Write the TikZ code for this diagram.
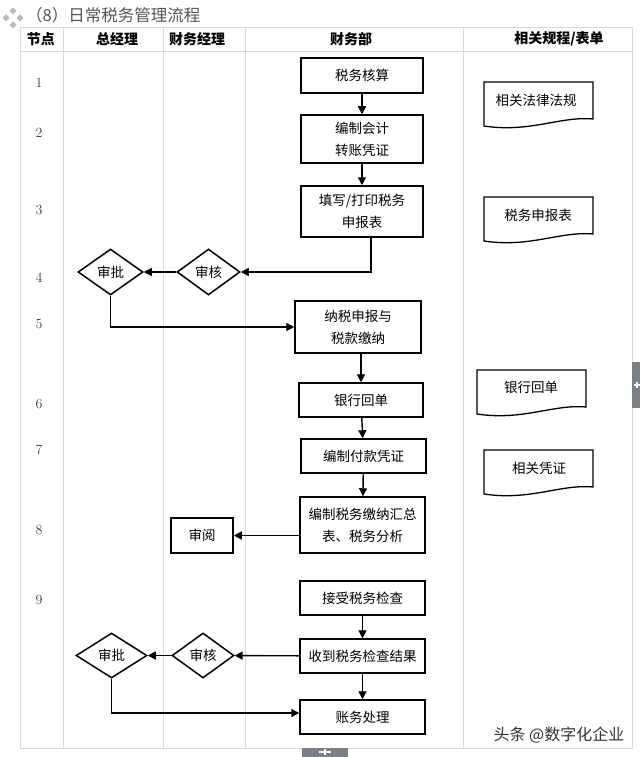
\documentclass[tikz,border=0pt]{standalone}
\usepackage{fontspec}
\newfontfamily\cjk{Noto Sans CJK SC}
\usetikzlibrary{shapes.geometric,arrows.meta}
\definecolor{tblgray}{HTML}{D6D8DC}
\definecolor{tabgray}{HTML}{7B8087}
\definecolor{titlegray}{HTML}{555555}
\newcommand\mydoc[6]{%
  \draw[docshape] (#2,#3) -- (#2+109,#3) -- (#2+109,#3+37)
    .. controls (#2+76,#3+34) and (#2+46,#3+51) .. (#2,#3+44) -- cycle;
  \node[txt] (#1) at (#4,#5) {#6};}
\begin{document}
\begin{tikzpicture}[x=1pt,y=-1pt,
  txt/.style={font=\cjk\fontsize{13.5}{22}\selectfont, inner sep=0pt, align=center},
  box/.style={txt, draw, line width=1.5pt},
  dia/.style={txt, draw, line width=1.5pt, shape=diamond},
  docshape/.style={draw, line width=1.3pt},
  tbl/.style={draw=tblgray, line width=0.8pt},
  hdr/.style={font=\cjk\bfseries\fontsize{14}{14}\selectfont, inner sep=0pt},
  num/.style={font=\fontsize{14}{14}\selectfont, text=black!75, inner sep=0pt},
  arr/.style={line width=1.4pt, -{Triangle[length=8pt,width=8pt]}}]
\useasboundingbox (0,0) rectangle (640,757);
\fill[white] (0,0) rectangle (640,757);
% title
\foreach \p in {(13,11),(6,18),(20,18),(13,25)}
  \fill[gray!55] \p +(0,-3.5) -- +(3.5,0) -- +(0,3.5) -- +(-3.5,0) -- cycle;
\node[anchor=west, font=\cjk\fontsize{16.5}{16.5}\selectfont, text=titlegray, inner sep=0pt] (title) at (26,15) {（8）日常税务管理流程};
% table
\draw[tbl] (20,27) rectangle (632,748);
\draw[tbl] (20,51) -- (632,51);
\foreach \x in {63,163,245,463} \draw[tbl] (\x,27) -- (\x,748);
% header
\node[hdr] (h1) at (41,39) {节点};
\node[hdr] (h2) at (117,39) {总经理};
\node[hdr] (h3) at (197,39) {财务经理};
\node[hdr] (h4) at (351,39) {财务部};
\node[hdr] (h5) at (559,39) {相关规程/表单};
% row numbers
\node[num] (n1) at (39,83) {1};
\node[num] (n2) at (39,133) {2};
\node[num] (n3) at (39,210) {3};
\node[num] (n4) at (39,278) {4};
\node[num] (n5) at (39,324) {5};
\node[num] (n6) at (39,404) {6};
\node[num] (n7) at (39,450) {7};
\node[num] (n8) at (39,530) {8};
\node[num] (n9) at (39,600) {9};
% process boxes
\node[box, minimum width=122pt, minimum height=35pt] (b1) at (362,75.5) {税务核算};
\node[box, minimum width=122pt, minimum height=48pt] (b2) at (362,139) {编制会计\\转账凭证};
\node[box, minimum width=122pt, minimum height=51pt] (b3) at (362,211.5) {填写/打印税务\\申报表};
\node[box, minimum width=126pt, minimum height=52pt] (b4) at (358,327) {纳税申报与\\税款缴纳};
\node[box, minimum width=124pt, minimum height=34pt] (b5) at (361,400) {银行回单};
\node[box, minimum width=125pt, minimum height=34pt] (b6) at (363.5,456) {编制付款凭证};
\node[box, minimum width=125pt, minimum height=56pt] (b7) at (362.5,525) {编制税务缴纳汇总\\表、税务分析};
\node[box, minimum width=62pt, minimum height=35pt] (b8) at (202,535.5) {审阅};
\node[box, minimum width=125pt, minimum height=34pt] (b9) at (362.5,598) {接受税务检查};
\node[box, minimum width=125pt, minimum height=34pt] (b10) at (362.5,656) {收到税务检查结果};
\node[box, minimum width=125pt, minimum height=34pt] (b11) at (362.5,717) {账务处理};
% decisions
\node[dia, minimum width=63pt, minimum height=46pt] (d1) at (208.5,272) {审核};
\node[dia, minimum width=65pt, minimum height=46pt] (d2) at (110.5,272) {审批};
\node[dia, minimum width=62pt, minimum height=45pt] (d3) at (203,655.5) {审核};
\node[dia, minimum width=71pt, minimum height=45pt] (d4) at (111.5,655.5) {审批};
% documents
\mydoc{doc1}{484}{82}{536}{100}{相关法律法规}
\mydoc{doc2}{484}{197}{538}{215}{税务申报表}
\mydoc{doc3}{477}{370}{531}{387}{银行回单}
\mydoc{doc4}{484}{450}{539}{468}{相关凭证}
% connectors
\draw[arr] (b1) -- (b2);
\draw[arr] (b2) -- (b3);
\draw[arr] ([xshift=9pt]b3.south) |- (d1.east);
\draw[arr] (d1) -- (d2);
\draw[arr] (d2.south) |- (b4.west);
\draw[arr] (b4.south -| b5) -- (b5.north);
\draw[arr] (b5) -- (b6);
\draw[arr] (b6) -- (b7);
\draw[arr] (b7.west |- b8) -- (b8.east);
\draw[arr] (b9) -- (b10);
\draw[arr] (b10) -- (d3);
\draw[arr] (d3) -- (d4);
\draw[arr] (d4.south) |- ([yshift=4pt]b11.west);
\draw[arr] (b10) -- (b11);
% side tabs
\fill[tabgray] (632,362) rectangle (640,408);
\draw[white, line width=1.5pt] (634,385) -- (640,385) (637,382) -- (637,388);
\fill[tabgray] (302,748) rectangle (348,757);
\draw[white, line width=1.5pt] (319,752) -- (331,752) (325,748.5) -- (325,755);
% watermark
\node[font=\cjk\fontsize{16}{16}\selectfont, text=black!80, inner sep=0pt] (wm) at (559,735) {头条 @数字化企业};
\end{tikzpicture}
\end{document}
